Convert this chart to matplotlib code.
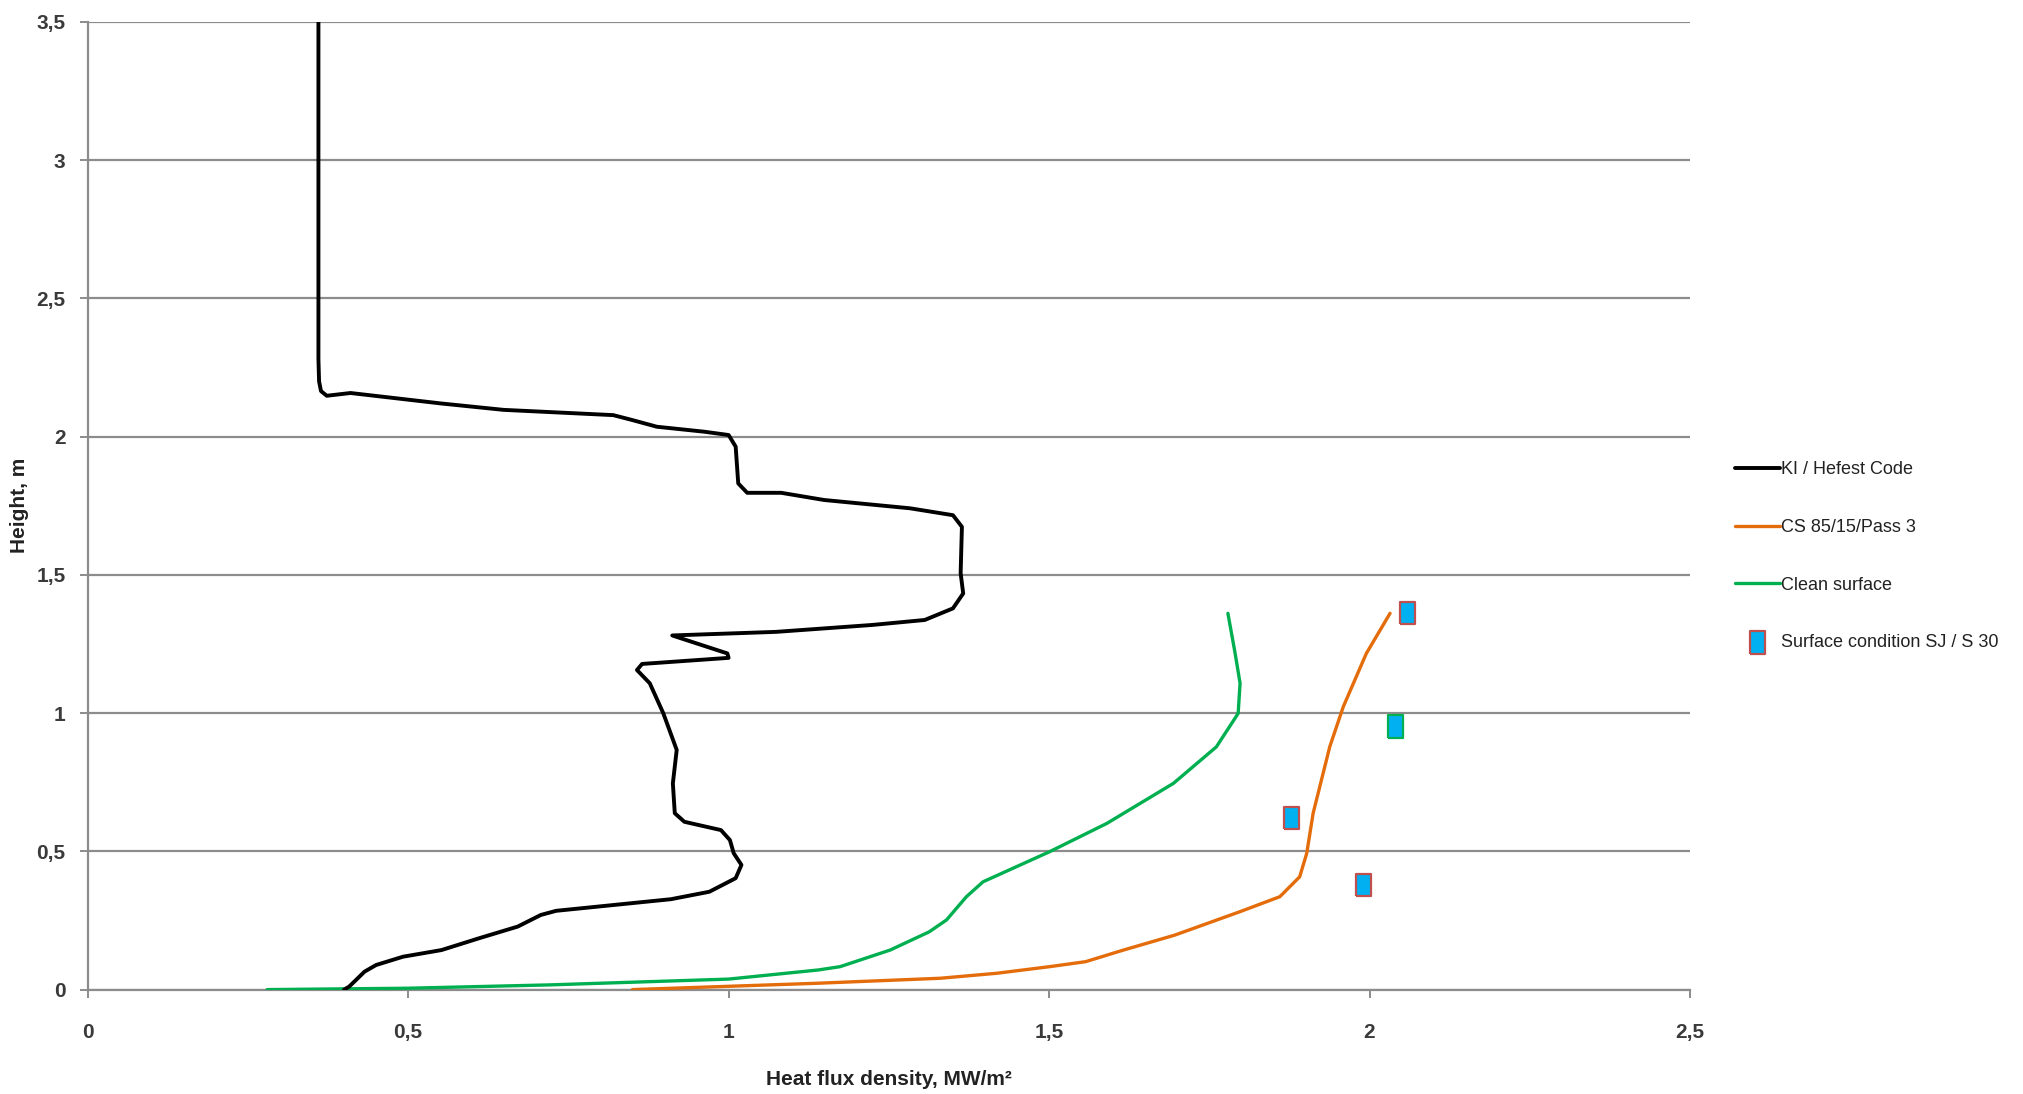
import matplotlib
matplotlib.use("Agg")
import matplotlib.pyplot as plt
from matplotlib.ticker import FixedLocator, FixedFormatter

plt.rcParams['font.family'] = ['Liberation Sans', 'DejaVu Sans']

# KI / Hefest Code (x = heat flux, y = height)
ki_x = [0.360, 0.360, 0.361, 0.364, 0.373, 0.410, 0.552, 0.649, 0.820, 0.850, 0.888,
        0.962, 1.000, 1.011, 1.015, 1.029, 1.082, 1.149, 1.283, 1.350, 1.364, 1.362,
        1.366, 1.350, 1.306, 1.224, 1.074, 0.912, 0.998, 1.000, 0.865, 0.857, 0.877,
        0.898, 0.919, 0.913, 0.916, 0.931, 0.988, 1.002, 1.008, 1.020, 1.011, 0.970,
        0.910, 0.731, 0.707, 0.671, 0.611, 0.552, 0.492, 0.450, 0.432, 0.408, 0.400]
ki_y = [3.500, 2.280, 2.200, 2.165, 2.148, 2.158, 2.120, 2.097, 2.078, 2.060, 2.036,
        2.018, 2.006, 1.964, 1.831, 1.797, 1.797, 1.771, 1.741, 1.716, 1.674, 1.506,
        1.433, 1.379, 1.337, 1.319, 1.294, 1.281, 1.216, 1.200, 1.178, 1.156, 1.108,
        1.000, 0.867, 0.746, 0.638, 0.607, 0.577, 0.541, 0.493, 0.451, 0.403, 0.354,
        0.327, 0.285, 0.270, 0.228, 0.186, 0.143, 0.119, 0.089, 0.065, 0.011, 0.000]

# CS 85/15/Pass 3
cs_x = [0.850, 1.139, 1.330, 1.418, 1.501, 1.557, 1.616, 1.696, 1.798, 1.860, 1.891,
        1.902, 1.912, 1.938, 1.959, 1.995, 2.032]
cs_y = [0.000, 0.023, 0.041, 0.059, 0.083, 0.101, 0.143, 0.197, 0.282, 0.336, 0.408,
        0.493, 0.638, 0.879, 1.023, 1.216, 1.361]

# Clean surface
clean_x = [0.280, 0.500, 0.720, 1.000, 1.140, 1.174, 1.252, 1.313, 1.340, 1.371, 1.397,
           1.501, 1.590, 1.694, 1.761, 1.795, 1.798, 1.790, 1.779]
clean_y = [0.000, 0.005, 0.017, 0.038, 0.071, 0.083, 0.143, 0.209, 0.252, 0.336, 0.390,
           0.499, 0.601, 0.746, 0.878, 0.999, 1.108, 1.220, 1.361]

# Surface condition SJ / S 30
sj_x = [2.059, 2.040, 1.878, 1.990]
sj_y = [1.362, 0.951, 0.620, 0.378]
sj_edge = ['#C0504D', '#00B050', '#C0504D', '#C0504D']

x_ticks = [0, 0.5, 1, 1.5, 2, 2.5]
x_tick_labels = ['0', '0,5', '1', '1,5', '2', '2,5']
y_ticks = [0, 0.5, 1, 1.5, 2, 2.5, 3, 3.5]
y_tick_labels = ['0', '0,5', '1', '1,5', '2', '2,5', '3', '3,5']

grid_col = '#8C8C8C'
text_col = '#3A3A3A'

fig = plt.figure(figsize=(20.23, 10.94), dpi=100)
ax = fig.add_axes([87.7 / 2023, 1 - 989.6 / 1094, (1690 - 87.7) / 2023, (989.6 - 22) / 1094])

line_kw = dict(solid_joinstyle='round', solid_capstyle='round')
ax.plot(ki_x, ki_y, color='black', lw=2.8, label='KI / Hefest Code', zorder=4, **line_kw)
ax.plot(cs_x, cs_y, color='#E46C0A', lw=2.4, label='CS 85/15/Pass 3', zorder=3, **line_kw)
ax.plot(clean_x, clean_y, color='#00B050', lw=2.4, label='Clean surface', zorder=3, **line_kw)
rect = [(-0.68, -1), (0.68, -1), (0.68, 1), (-0.68, 1), (-0.68, -1)]
ax.scatter(sj_x, sj_y, marker=rect, s=260, facecolor='#00B0F0', edgecolors=sj_edge,
           linewidths=1.6, label='Surface condition SJ / S 30', zorder=5)

ax.set_xlim(0, 2.5)
ax.set_ylim(0, 3.5)
ax.xaxis.set_major_locator(FixedLocator(x_ticks))
ax.xaxis.set_major_formatter(FixedFormatter(x_tick_labels))
ax.yaxis.set_major_locator(FixedLocator(y_ticks))
ax.yaxis.set_major_formatter(FixedFormatter(y_tick_labels))

ax.grid(axis='y', color=grid_col, lw=1.6)
ax.set_axisbelow(True)
for s in ['top', 'right']:
    ax.spines[s].set_visible(False)
for s in ['left', 'bottom']:
    ax.spines[s].set_color(grid_col)
    ax.spines[s].set_linewidth(1.6)
ax.tick_params(axis='both', colors=grid_col, length=6, width=1.4)
ax.tick_params(axis='x', pad=18)
ax.tick_params(axis='y', pad=10)
for lab in ax.get_xticklabels() + ax.get_yticklabels():
    lab.set_color(text_col)
    lab.set_fontsize(15)
    lab.set_fontweight('bold')

ax.set_xlabel('Heat flux density, MW/m²', fontsize=15, fontweight='bold', color='#222222', labelpad=20)
ax.set_ylabel('Height, m', fontsize=15, fontweight='bold', color='#222222', labelpad=5)

fig.legend(loc='center left', bbox_to_anchor=(0.853, 0.4915), frameon=False, fontsize=13,
           handlelength=2.5, handletextpad=0.05, labelspacing=2.25, borderpad=0,
           labelcolor='#222222')

fig.savefig('out.png', dpi=100)
